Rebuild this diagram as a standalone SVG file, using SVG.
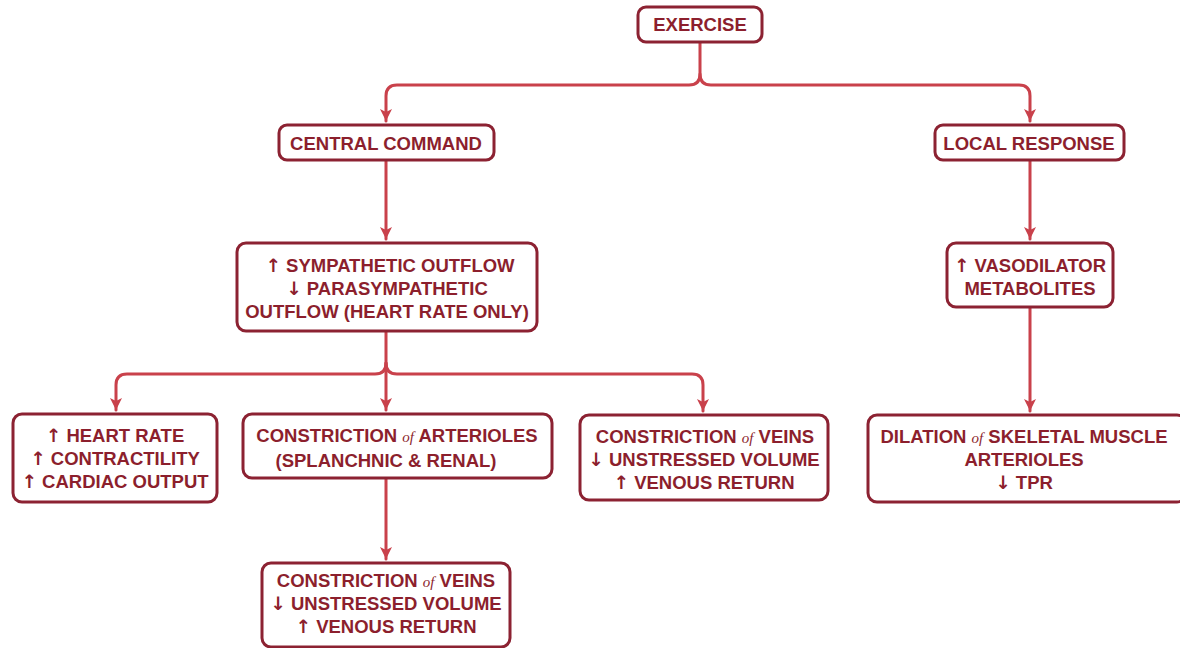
<svg xmlns="http://www.w3.org/2000/svg" width="1180" height="648" viewBox="0 0 1180 648">
  <style>
    .box { fill: #ffffff; stroke: #8c2232; stroke-width: 3; }
    .lbl { font-family: "Liberation Sans", Arial, sans-serif; font-weight: 700; font-size: 18.5px; fill: #8c1f2d; text-anchor: middle; }
    .of { font-family: "Liberation Serif", serif; font-style: italic; font-weight: 400; font-size: 15px; }
    .ar { font-family: "DejaVu Sans", sans-serif; font-weight: 700; fill: #8c1f2d; }
    .wire { fill: none; stroke: #c9414b; stroke-width: 3; stroke-linecap: round; stroke-linejoin: round; }
  </style>
  <defs>
    <marker id="head" markerUnits="userSpaceOnUse" markerWidth="16" markerHeight="14" refX="13" refY="7" orient="auto">
      <path d="M1,1 L13,7 L1,13 L4,7 Z" fill="#c9414b"/>
    </marker>
  </defs>
  <rect width="1180" height="648" fill="#ffffff"/>

  <g id="connectors">
    <!-- exercise splits into two branches -->
    <path class="wire" d="M700,42 V74 Q700,85 689,85 H397 Q386,85 386,96 V121" marker-end="url(#head)"/>
    <path class="wire" d="M700,74 Q700,85 711,85 H1019 Q1030,85 1030,96 V121" marker-end="url(#head)"/>
    <!-- central command to autonomic outflow -->
    <path class="wire" d="M386,160 V239" marker-end="url(#head)"/>
    <!-- local response to metabolites -->
    <path class="wire" d="M1030,160 V239" marker-end="url(#head)"/>
    <!-- autonomic outflow fans out three ways -->
    <path class="wire" d="M386,332 V363 Q386,374 375,374 H127 Q116,374 116,385 V410" marker-end="url(#head)"/>
    <path class="wire" d="M386,363 V410" marker-end="url(#head)"/>
    <path class="wire" d="M386,363 Q386,374 397,374 H692 Q703,374 703,385 V411" marker-end="url(#head)"/>
    <!-- arterioles to veins -->
    <path class="wire" d="M386,478 V559" marker-end="url(#head)"/>
    <!-- metabolites to dilation -->
    <path class="wire" d="M1030,307 V411" marker-end="url(#head)"/>
  </g>

  <g id="exercise">
    <rect class="box" x="638" y="7" width="124" height="35" rx="8"/>
    <text class="lbl" x="700" y="31">EXERCISE</text>
  </g>

  <g id="central-command">
    <rect class="box" x="279" y="125" width="215" height="35" rx="8"/>
    <text class="lbl" x="386" y="150">CENTRAL COMMAND</text>
  </g>

  <g id="local-response">
    <rect class="box" x="935" y="125" width="189" height="35" rx="8"/>
    <text class="lbl" x="1029" y="150">LOCAL RESPONSE</text>
  </g>

  <g id="autonomic-outflow">
    <rect class="box" x="237" y="243" width="300" height="88" rx="9"/>
    <text class="lbl" x="390" y="272"><tspan class="ar">↑</tspan> SYMPATHETIC OUTFLOW</text>
    <text class="lbl" x="387" y="295"><tspan class="ar">↓</tspan> PARASYMPATHETIC</text>
    <text class="lbl" x="387" y="318">OUTFLOW (HEART RATE ONLY)</text>
  </g>

  <g id="vasodilator-metabolites">
    <rect class="box" x="947" y="243" width="166" height="64" rx="9"/>
    <text class="lbl" x="1030" y="272"><tspan class="ar">↑</tspan> VASODILATOR</text>
    <text class="lbl" x="1030" y="295">METABOLITES</text>
  </g>

  <g id="cardiac">
    <rect class="box" x="13" y="414" width="204" height="88" rx="9"/>
    <text class="lbl" x="115" y="442"><tspan class="ar">↑</tspan> HEART RATE</text>
    <text class="lbl" x="115" y="465"><tspan class="ar">↑</tspan> CONTRACTILITY</text>
    <text class="lbl" x="115" y="488"><tspan class="ar">↑</tspan> CARDIAC OUTPUT</text>
  </g>

  <g id="arteriole-constriction">
    <rect class="box" x="243" y="414" width="309" height="64" rx="9"/>
    <text class="lbl" x="397" y="442">CONSTRICTION <tspan class="of">of</tspan> ARTERIOLES</text>
    <text class="lbl" x="386" y="467">(SPLANCHNIC &amp; RENAL)</text>
  </g>

  <g id="vein-constriction-right">
    <rect class="box" x="580" y="415" width="248" height="85" rx="9"/>
    <text class="lbl" x="705" y="443">CONSTRICTION <tspan class="of">of</tspan> VEINS</text>
    <text class="lbl" x="704" y="466"><tspan class="ar">↓</tspan> UNSTRESSED VOLUME</text>
    <text class="lbl" x="704" y="489"><tspan class="ar">↑</tspan> VENOUS RETURN</text>
  </g>

  <g id="skeletal-dilation">
    <rect class="box" x="868" y="415" width="318" height="87" rx="9"/>
    <text class="lbl" x="1024" y="443">DILATION <tspan class="of">of</tspan> SKELETAL MUSCLE</text>
    <text class="lbl" x="1024" y="466">ARTERIOLES</text>
    <text class="lbl" x="1024" y="489"><tspan class="ar">↓</tspan> TPR</text>
  </g>

  <g id="vein-constriction-lower">
    <rect class="box" x="262" y="563" width="248" height="84" rx="9"/>
    <text class="lbl" x="386" y="587">CONSTRICTION <tspan class="of">of</tspan> VEINS</text>
    <text class="lbl" x="386" y="610"><tspan class="ar">↓</tspan> UNSTRESSED VOLUME</text>
    <text class="lbl" x="386" y="633"><tspan class="ar">↑</tspan> VENOUS RETURN</text>
  </g>
</svg>
